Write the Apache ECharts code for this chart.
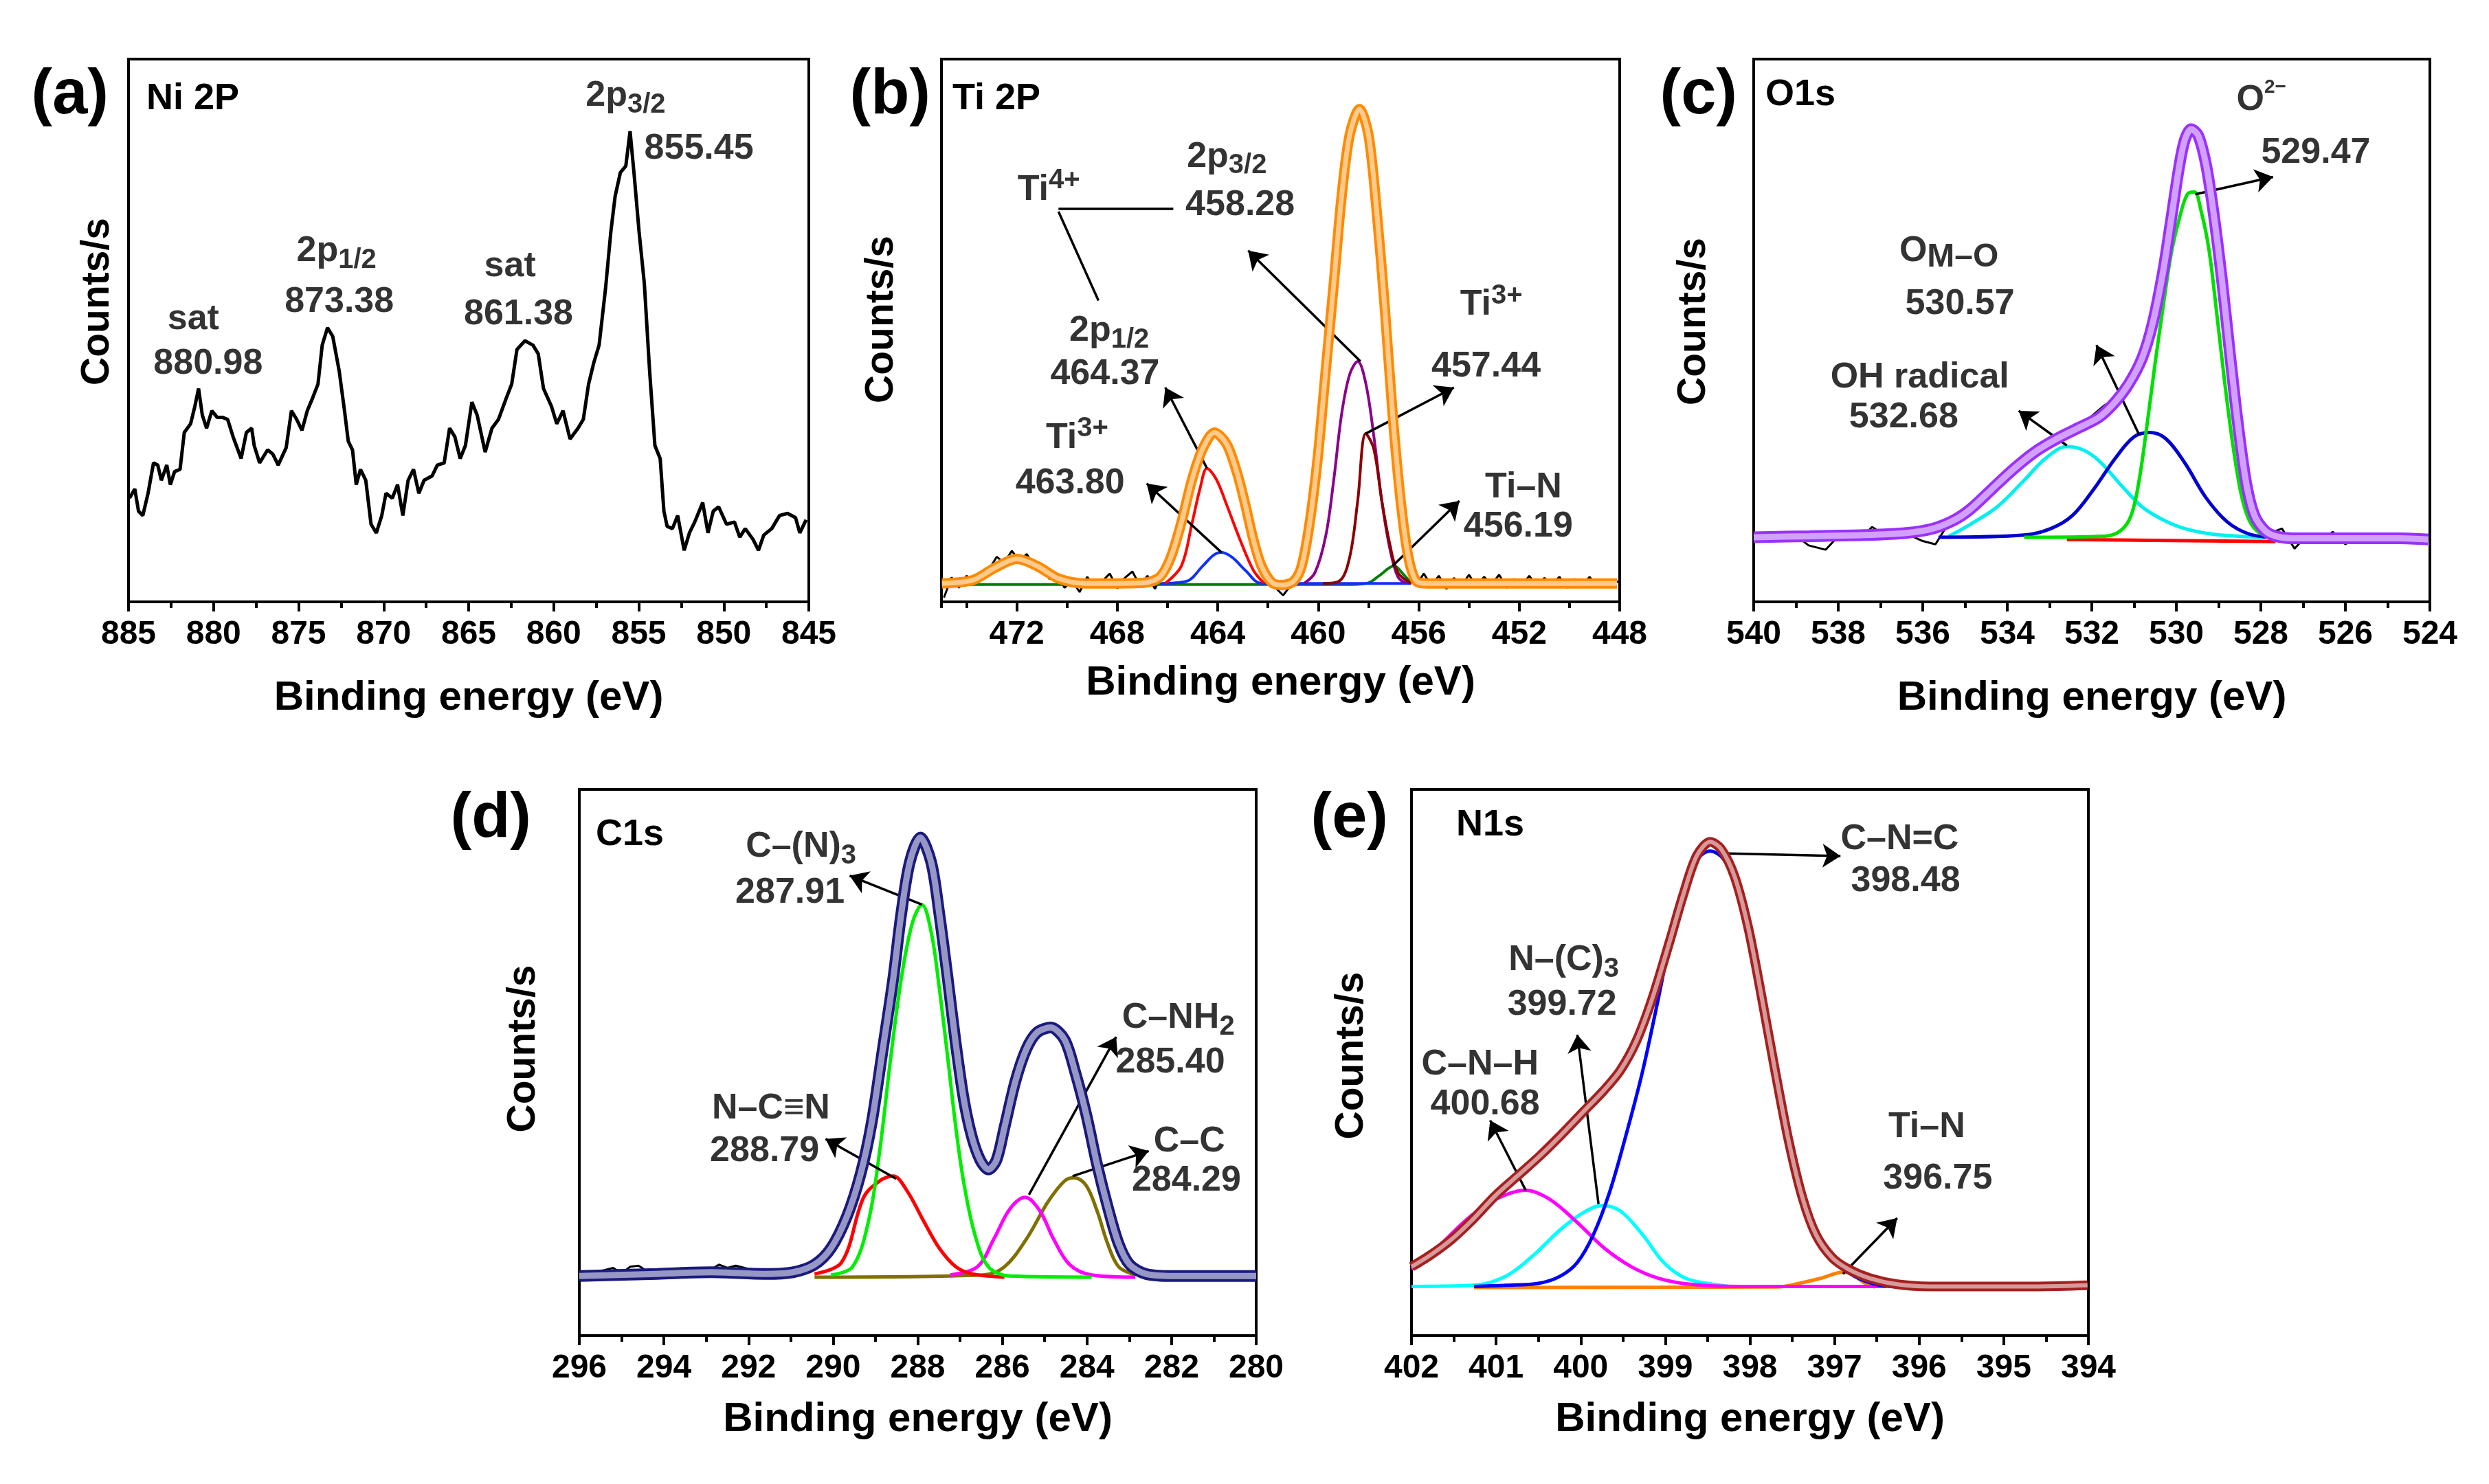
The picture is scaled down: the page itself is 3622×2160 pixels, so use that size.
<!DOCTYPE html>
<html>
<head>
<meta charset="utf-8">
<title>XPS spectra</title>
<script src="https://cdn.jsdelivr.net/npm/echarts@6/dist/echarts.min.js"></script>
<style>
  html, body { margin: 0; padding: 0; background: #fff; }
  #chart { width: 3622px; height: 2160px; }
</style>
</head>
<body>
<div id="chart"></div>
<script>
// (a) Ni 2P raw spectrum [binding energy, counts]
const niRaw = [
  [884.94,19.1],[884.63,20.8],[884.41,16.7],[884.16,15.9],[883.85,20.0],[883.53,25.6],[883.28,25.2],[883.07,22.4],
  [882.75,25.2],[882.54,21.6],[882.29,24.0],[881.97,24.4],[881.72,31.2],[881.35,32.8],[881.10,36.0],[880.88,39.3],
  [880.66,34.4],[880.41,32.0],[880.10,35.2],[879.79,34.0],[879.48,34.0],[879.17,33.6],[878.85,30.4],[878.38,26.4],
  [878.07,31.2],[877.76,32.0],[877.61,28.8],[877.29,25.6],[876.82,28.0],[876.51,27.2],[876.20,25.2],[875.73,28.4],
  [875.42,35.2],[875.11,33.6],[874.80,31.6],[874.49,35.2],[874.17,37.6],[873.86,40.1],[873.61,47.3],[873.30,50.5],
  [872.99,48.9],[872.61,42.5],[872.30,35.2],[872.08,29.6],[871.83,28.0],[871.61,21.6],[871.36,24.4],[871.05,22.4],
  [870.74,14.3],[870.43,12.7],[870.11,15.9],[869.86,20.0],[869.49,19.1],[869.18,21.6],[868.87,15.9],[868.56,22.4],
  [868.24,24.4],[867.93,20.0],[867.62,22.4],[867.15,23.2],[866.84,25.2],[866.44,25.6],[866.12,32.0],[865.81,30.4],
  [865.50,26.4],[865.19,28.8],[864.81,36.8],[864.50,34.4],[864.03,27.6],[863.63,32.0],[863.25,33.6],[862.78,37.6],
  [862.47,40.1],[862.16,46.5],[861.69,48.1],[861.22,47.3],[860.91,45.7],[860.60,39.3],[860.13,36.0],[859.82,32.8],
  [859.45,35.2],[859.04,30.0],[858.57,32.0],[858.26,33.6],[857.95,40.1],[857.64,44.1],[857.33,47.3],[856.95,57.8],
  [856.64,68.2],[856.39,74.7],[856.08,79.1],[855.76,80.3],[855.51,86.7],[855.27,78.7],[854.98,68.2],[854.67,58.6],
  [854.36,42.5],[854.05,28.8],[853.74,26.4],[853.52,16.7],[853.33,13.9],[853.02,13.5],[852.71,15.9],[852.33,9.5],
  [852.02,12.7],[851.71,14.7],[851.24,18.3],[850.93,12.7],[850.62,16.7],[850.30,17.5],[849.84,14.3],[849.37,14.7],
  [849.06,11.9],[848.74,13.5],[848.28,11.5],[847.96,9.5],[847.65,12.3],[847.18,13.5],[846.72,15.9],[846.25,16.3],
  [845.78,15.5],[845.53,12.7],[845.16,15.1]
];

// (b) Ti 2P
const tiRaw = [
  [474.9,0.8],[474.6,4.5],[474.3,2.6],[474.0,4.8],[473.7,3.4],[473.4,5.6],[473.1,6.0],[472.8,8.3],[472.5,7.2],[472.2,9.4],
  [471.9,7.6],[471.6,8.8],[471.3,6.2],[471.0,6.4],[470.7,4.2],[470.4,5.0],[470.1,2.6],[469.8,3.9],[469.5,1.8],[469.2,4.6],
  [468.9,2.9],[468.6,3.8],[468.3,5.2],[468.0,2.5],[467.7,4.4],[467.4,5.6],[467.1,3.0],[466.8,4.8],[466.5,2.4],[466.2,5.2],
  [465.9,7.5],[465.5,14.8],[465.0,23.0],[464.5,29.0],[464.1,31.6],[463.6,28.8],[463.2,23.6],[462.8,16.5],[462.4,8.4],
  [462.0,4.6],[461.7,2.6],[461.4,1.2],[461.1,3.0],[460.8,4.8],[460.4,13.0],[460.0,27.0],[459.5,50.0],[459.0,78.0],
  [458.6,88.5],[458.3,91.0],[458.0,86.0],[457.6,68.0],[457.2,42.0],[456.8,20.0],[456.4,8.0],[456.1,3.0],[455.8,5.2],
  [455.5,3.0],[455.2,4.8],[454.9,2.4],[454.6,4.4],[454.3,3.0],[454.0,5.0],[453.7,2.8],[453.4,4.6],[453.1,3.2],[452.8,5.0],
  [452.5,2.6],[452.2,4.2],[451.9,3.0],[451.6,4.8],[451.3,2.8],[451.0,4.4],[450.7,3.2],[450.4,4.6],[450.1,2.6],[449.8,4.2],
  [449.5,3.0],[449.2,4.6],[448.9,2.8],[448.6,4.0],[448.3,3.2],[448.05,3.8]
];
const tiEnvelope = [
  [474.98,3.4],[473.75,4.0],[472.90,6.2],[472.00,7.9],[471.19,6.6],[470.34,4.3],[469.28,3.4],[468.00,3.4],[466.94,3.5],
  [466.30,4.6],[465.87,8.2],[465.45,14.6],[465.02,22.6],[464.60,28.2],[464.13,31.2],[463.64,29.0],[463.21,23.4],
  [462.90,17.8],[462.58,11.4],[462.26,6.6],[461.83,3.5],[461.41,3.1],[460.98,3.8],[460.66,6.6],[460.34,14.6],
  [460.02,26.6],[459.70,42.7],[459.38,58.7],[459.07,74.7],[458.75,86.0],[458.36,90.8],[458.00,86.0],[457.68,72.3],
  [457.36,54.7],[457.04,34.6],[456.72,18.6],[456.41,8.2],[456.09,3.8],[455.66,3.4],[454.38,3.4],[452.26,3.4],
  [450.13,3.4],[448.11,3.4]
];
const ti4p12 = [[466.09,3.4],[465.45,6.6],[465.02,14.6],[464.70,21.0],[464.43,24.6],[464.06,22.6],[463.64,17.8],[463.11,11.4],[462.58,5.8],[462.15,3.4]];
const ti3p12 = [[466.30,3.4],[465.24,3.8],[464.60,6.6],[464.17,8.6],[463.85,9.1],[463.43,8.2],[462.90,5.8],[462.26,3.4],[459.00,3.4],[456.30,3.4]];
const ti4p32 = [[460.56,3.4],[460.13,5.4],[459.70,12.2],[459.38,22.6],[459.07,34.6],[458.75,41.9],[458.43,44.3],[458.11,40.3],[457.79,30.6],[457.47,18.6],[457.15,9.8],[456.83,4.6],[456.51,3.4]];
const ti3p32 = [[459.81,3.4],[459.17,3.8],[458.75,8.2],[458.43,18.6],[458.11,31.0],[457.79,28.2],[457.47,18.6],[457.15,10.6],[456.83,5.4],[456.30,3.4]];
const tiN = [[474.98,3.2],[466.0,3.2],[458.64,3.2],[458.00,3.5],[457.58,4.8],[456.98,6.6],[456.62,5.1],[456.30,3.4]];

// (c) O1s
const oRaw = [
  [539.9,12.5],[539.5,11.2],[539.1,12.8],[538.7,10.4],[538.3,9.6],[537.9,12.9],[537.5,11.4],[537.2,13.8],[536.8,11.8],
  [536.4,12.6],[536.0,11.2],[535.7,10.6],[535.3,15.6],[534.9,17.8],[534.5,19.8],[534.1,23.4],[533.7,25.0],[533.3,28.4],
  [532.9,29.0],[532.5,31.6],[532.1,33.6],[531.7,36.2],[531.3,38.0],[530.9,44.0],[530.5,52.0],[530.1,71.0],[529.8,85.0],
  [529.6,87.0],[529.3,80.0],[529.0,64.0],[528.7,45.0],[528.4,25.0],[528.1,15.0],[527.8,12.6],[527.5,13.5],[527.2,9.8],
  [526.9,12.4],[526.6,11.2],[526.3,12.9],[526.0,10.6],[525.7,12.2],[525.4,11.0],[525.1,12.6],[524.8,10.8],[524.5,12.4],
  [524.1,11.6]
];
const oEnvelope = [
  [540.00,11.9],[538.67,12.1],[537.40,12.3],[536.39,12.7],[535.76,13.5],[535.25,15.1],[534.87,17.1],[534.36,20.8],
  [533.86,24.4],[533.35,27.6],[532.84,30.0],[532.33,32.0],[531.83,34.0],[531.45,36.8],[531.13,40.1],[530.81,44.9],
  [530.56,51.3],[530.31,61.0],[530.12,70.6],[529.93,80.3],[529.80,85.1],[529.65,87.1],[529.48,85.9],[529.29,80.3],
  [529.10,70.6],[528.91,58.6],[528.72,44.9],[528.53,32.0],[528.34,21.6],[528.15,15.9],[527.90,13.1],[527.65,12.1],
  [527.27,11.7],[526.00,11.7],[524.73,11.7],[524.04,11.5]
];
const oLattice = [[533.60,11.9],[531.70,12.1],[531.32,13.1],[531.07,15.9],[530.88,22.4],[530.69,32.8],[530.50,44.1],[530.31,54.5],[530.12,64.2],[529.93,70.6],[529.74,75.1],[529.57,75.5],[529.42,72.2],[529.23,65.0],[529.04,52.9],[528.85,40.1],[528.66,28.8],[528.47,20.0],[528.28,15.1],[528.03,12.7],[527.65,11.9]];
const oMetal = [[535.63,11.9],[533.60,12.3],[532.97,13.5],[532.46,15.9],[531.95,20.8],[531.45,26.4],[531.00,30.4],[530.62,31.2],[530.24,30.0],[529.80,25.6],[529.29,19.1],[528.79,14.7],[528.28,12.5],[527.77,11.9]];
const oHydroxyl = [[535.38,12.1],[534.87,14.3],[534.24,17.5],[533.60,22.4],[533.10,26.4],[532.59,28.6],[532.21,28.0],[531.83,26.0],[531.32,21.6],[530.81,17.5],[530.31,15.1],[529.80,13.5],[529.17,12.5],[528.53,12.1],[527.90,11.9]];
const oBackground = [[532.59,11.5],[527.65,11.1]];

// (d) C1s
const cRaw = [[296.0,11.0],[295.6,11.6],[295.2,12.4],[295.0,11.4],[294.8,12.6],[294.6,12.8],[294.4,11.8],[294.0,11.0],[293.6,11.4],[293.2,10.8],[292.9,12.0],[292.7,13.0],[292.5,12.4],[292.3,12.8],[292.0,12.2],[291.7,11.6],[291.3,11.0],[290.9,11.6],[290.5,12.8]];
const cEnvelope = [
  [296.00,10.9],[294.16,11.3],[292.88,11.6],[291.60,11.3],[290.95,11.6],[290.44,13.0],[290.05,16.0],[289.67,21.9],
  [289.35,29.6],[289.09,38.9],[288.84,51.7],[288.58,65.3],[288.39,77.2],[288.19,86.6],[287.94,91.2],[287.68,86.6],
  [287.49,77.2],[287.29,65.3],[287.10,53.4],[286.91,43.2],[286.72,36.4],[286.52,32.1],[286.33,30.4],[286.14,32.1],
  [285.95,38.1],[285.69,46.6],[285.43,52.5],[285.18,55.5],[284.86,56.4],[284.53,54.2],[284.28,48.3],[284.02,40.6],
  [283.76,31.3],[283.51,23.6],[283.25,16.8],[282.99,13.0],[282.61,11.3],[281.96,10.9],[280.00,10.9]
];
const cTriazine = [[290.05,11.1],[289.54,12.6],[289.16,21.1],[288.90,33.8],[288.64,50.8],[288.39,65.3],[288.13,75.5],[287.90,78.9],[287.68,73.8],[287.49,63.6],[287.29,50.8],[287.10,38.1],[286.91,27.9],[286.65,18.5],[286.33,12.6],[285.82,10.9],[283.89,10.7]];
const cCyanamide = [[290.44,11.3],[289.80,13.4],[289.28,25.3],[288.90,28.3],[288.58,29.2],[288.26,26.6],[287.87,21.1],[287.49,16.0],[287.10,12.6],[286.72,11.3],[285.95,10.7]];
const cAmine = [[287.23,11.1],[286.59,12.6],[286.20,17.7],[285.82,23.2],[285.46,25.3],[285.11,22.8],[284.79,17.7],[284.41,13.0],[283.89,11.1],[282.86,10.7]];
const cCarbon = [[290.44,10.7],[286.46,11.1],[285.95,12.6],[285.43,17.7],[284.92,24.5],[284.53,28.3],[284.30,28.9],[284.02,27.5],[283.76,22.8],[283.51,16.8],[283.25,12.6],[282.86,11.1]];

// (e) N1s
const nEnvelope = [
  [402.00,12.6],[401.78,14.7],[401.52,17.7],[401.26,21.5],[401.01,25.6],[400.75,29.2],[400.49,32.8],[400.24,36.6],
  [399.98,40.8],[399.72,45.0],[399.53,48.6],[399.34,54.0],[399.15,61.9],[398.95,72.1],[398.79,80.6],[398.63,87.8],
  [398.47,90.4],[398.34,89.1],[398.18,84.0],[398.02,74.7],[397.86,61.9],[397.70,48.3],[397.54,35.5],[397.38,25.3],
  [397.22,18.5],[397.03,14.3],[396.84,12.2],[396.58,10.5],[396.26,9.4],[395.87,9.0],[395.23,9.0],[394.59,9.0],[394.01,9.2]
];
const nSp2 = [[401.26,9.0],[400.88,9.2],[400.49,9.6],[400.24,10.9],[400.04,13.4],[399.85,18.5],[399.66,26.2],[399.47,36.4],[399.27,48.3],[399.08,61.9],[398.92,73.8],[398.79,80.6],[398.63,87.0],[398.47,88.7],[398.31,87.2],[398.15,81.9],[397.99,72.5],[397.83,59.8],[397.67,46.2],[397.51,34.3],[397.35,24.9],[397.19,18.1],[397.00,13.6],[396.77,10.9],[396.52,9.4],[396.32,9.0]];
const nAmino = [[402.00,12.2],[401.65,16.8],[401.33,21.5],[401.01,24.9],[400.65,26.6],[400.36,24.9],[400.04,20.7],[399.72,16.0],[399.40,12.6],[399.08,10.5],[398.70,9.4],[398.12,9.0],[396.39,9.0]];
const nTertiary = [[402.00,9.0],[401.26,9.2],[400.88,10.9],[400.56,14.7],[400.24,19.4],[399.98,22.4],[399.75,23.8],[399.53,22.8],[399.27,18.5],[399.02,13.4],[398.76,10.5],[398.44,9.4],[398.25,9.0]];
const nTiN = [[401.26,8.8],[397.67,8.9],[397.41,9.6],[397.16,10.5],[396.90,11.6],[396.80,11.3],[396.64,9.6],[396.52,8.9]];

// peak annotations: [energy, counts, text]
const notesA = [
  [881.19,52.1,'{m|sat}'],[880.32,43.9,'{m|880.98}'],
  [872.77,64.6,'{m|2p}{sub|1/2}'],[872.61,55.2,'{m|873.38}'],
  [862.57,61.8,'{m|sat}'],[862.07,52.9,'{m|861.38}'],
  [855.77,93.2,'{m|2p}{sub|3/2}'],[851.46,83.5,'{m|855.45}']
];
const notesB = [
  [470.73,75.9,'{m|Ti}{sup|4+}'],
  [463.64,82.0,'{m|2p}{sub|3/2}'],[463.11,73.1,'{m|458.28}'],
  [468.32,49.9,'{m|2p}{sub|1/2}'],[468.49,41.9,'{m|464.37}'],
  [469.60,30.2,'{m|Ti}{sup|3+}'],[469.88,21.8,'{m|463.80}'],
  [453.11,54.7,'{m|Ti}{sup|3+}'],[453.32,43.3,'{m|457.44}'],
  [451.83,21.0,'{m|Ti–N}'],[452.04,13.8,'{m|456.19}']
];
const notesC = [
  [527.99,92.4,'{m|O}{sup2|2−}'],[526.70,82.7,'{m|529.47}'],
  [535.38,64.6,'{m|O}{subL|M–O}'],[535.12,54.9,'{m|530.57}'],
  [536.07,41.3,'{m|OH radical}'],[536.45,34.0,'{m|532.68}']
];
const notesD = [
  [290.76,89.5,'{m|C–(N)}{sub|3}'],[291.02,81.0,'{m|287.91}'],
  [291.47,41.5,'{m|N–C≡N}'],[291.62,33.8,'{m|288.79}'],
  [281.84,58.1,'{m|C–NH}{sub|2}'],[282.03,50.0,'{m|285.40}'],
  [281.58,35.5,'{m|C–C}'],[281.65,28.3,'{m|284.29}']
];
const notesE = [
  [396.23,90.8,'{m|C–N=C}'],[396.16,83.2,'{m|398.48}'],
  [400.20,68.7,'{m|N–(C)}{sub|3}'],[400.22,60.6,'{m|399.72}'],
  [401.19,49.6,'{m|C–N–H}'],[401.13,42.3,'{m|400.68}'],
  [395.91,38.1,'{m|Ti–N}'],[395.78,28.7,'{m|396.75}']
];

// leader lines: [from energy, from counts, to energy, to counts, arrow head]
const arrowsA = [];
const arrowsB = [
  [470.34,72.5,465.77,72.5,0],[470.34,71.9,468.75,55.5,0],
  [458.32,44.3,462.79,64.7,1],[464.43,24.6,466.09,39.5,1],[463.85,9.1,466.83,21.8,1],
  [458.11,31.0,454.60,39.5,1],[457.04,6.6,454.38,18.6,1]
];
const arrowsC = [[529.55,75.1,527.71,78.3,1],[530.88,30.8,531.89,47.3,1],[532.59,28.8,533.73,35.2,1]];
const arrowsD = [[287.90,78.9,289.61,84.2,1],[288.51,28.7,290.18,36.0,1],[285.37,25.8,283.31,54.7,1],[284.34,29.2,282.54,33.8,1]];
const arrowsE = [[398.34,88.3,396.93,87.8,1],[399.79,24.1,400.04,55.1,1],[400.65,26.6,401.07,39.4,1],[396.90,11.3,396.26,21.5,1]];

const FONT = '"Liberation Sans", Arial, Helvetica, sans-serif';

// panel frames
const panels = [
  { letter: '(a)', title: 'Ni 2P', left: 187,  top: 86,   width: 990, height: 790, min: 845, max: 885, step: 5,
    letterGap: 29, letterDy: 54, titleDx: 26, titleDy: 58, xGap: 110, yGap: 16, yShift: 42, hideMax: false },
  { letter: '(b)', title: 'Ti 2P', left: 1370, top: 86,   width: 987, height: 790, min: 448, max: 475, step: 4,
    letterGap: 16, letterDy: 54, titleDx: 16, titleDy: 58, xGap: 88,  yGap: 58, yShift: 16, hideMax: true },
  { letter: '(c)', title: 'O1s',   left: 2552, top: 86,   width: 984, height: 790, min: 524, max: 540, step: 2,
    letterGap: 24, letterDy: 54, titleDx: 17, titleDy: 52, xGap: 110, yGap: 58, yShift: 13, hideMax: false },
  { letter: '(d)', title: 'C1s',   left: 843,  top: 1149, width: 985, height: 795, min: 280, max: 296, step: 2,
    letterGap: 70, letterDy: 44, titleDx: 24, titleDy: 66, xGap: 92,  yGap: 52, yShift: 20, hideMax: false },
  { letter: '(e)', title: 'N1s',   left: 2054, top: 1149, width: 985, height: 795, min: 394, max: 402, step: 1,
    letterGap: 34, letterDy: 44, titleDx: 65, titleDy: 52, xGap: 92,  yGap: 58, yShift: 10, hideMax: false }
];

const RICH = {
  m:    { fontFamily: FONT, fontWeight: 'bold', fontSize: 52, lineHeight: 66, color: '#000' },
  sub:  { fontFamily: FONT, fontWeight: 'bold', fontSize: 40, verticalAlign: 'bottom', color: '#000' },
  subL: { fontFamily: FONT, fontWeight: 'bold', fontSize: 48, verticalAlign: 'bottom', color: '#000' },
  sup:  { fontFamily: FONT, fontWeight: 'bold', fontSize: 40, verticalAlign: 'top', color: '#000' },
  sup2: { fontFamily: FONT, fontWeight: 'bold', fontSize: 28, verticalAlign: 'top', color: '#000' }
};

function line(gi, data, color, width, smooth, z) {
  return {
    type: 'line', xAxisIndex: gi * 2, yAxisIndex: gi, data: data,
    symbol: 'none', showSymbol: false, smooth: smooth, silent: true, z: z || 2,
    lineStyle: { color: color, width: width }
  };
}

// open-circle envelope drawn as a hollow band
function envelope(gi, data, color, width) {
  const inner = line(gi, data, '#fff', width - 8, 0.3, 6);
  inner.lineStyle.opacity = 0.55;
  return [line(gi, data, color, width, 0.3, 5), inner];
}

function notes(gi, labels, arrows) {
  return {
    type: 'scatter', xAxisIndex: gi * 2, yAxisIndex: gi, symbolSize: 0, silent: true, z: 10,
    data: labels.map(l => ({ value: [l[0], l[1]], txt: l[2] })),
    label: { show: true, position: 'inside', color: '#000', formatter: p => p.data.txt, rich: RICH },
    markLine: {
      silent: true, symbolSize: 26, label: { show: false },
      lineStyle: { color: '#000', width: 3.5, type: 'solid' },
      data: arrows.map(a => [
        { coord: [a[0], a[1]], symbol: 'none' },
        { coord: [a[2], a[3]], symbol: a[4] ? 'arrow' : 'none' }
      ])
    }
  };
}

const xAxes = [];
panels.forEach((p, i) => {
  xAxes.push({
    type: 'value', gridIndex: i, position: 'bottom', inverse: true,
    min: p.min, max: p.max, interval: p.step,
    axisLine: { show: true, lineStyle: { color: '#000', width: 4 } },
    axisTick: { show: true, inside: false, length: 14, lineStyle: { color: '#000', width: 4 } },
    axisLabel: { show: true, margin: 24, color: '#000', fontSize: 48, fontWeight: 'bold', fontFamily: FONT,
                 showMaxLabel: !p.hideMax, showMinLabel: true },
    splitLine: { show: false },
    name: 'Binding energy (eV)', nameLocation: 'middle', nameGap: p.xGap,
    nameTextStyle: { color: '#000', fontSize: 60, fontWeight: 'bold', fontFamily: FONT }
  });
  xAxes.push({
    type: 'value', gridIndex: i, position: 'bottom', inverse: true,
    min: p.min, max: p.max, interval: p.step / 2,
    axisLine: { show: false },
    axisTick: { show: true, inside: false, length: 9, lineStyle: { color: '#000', width: 4 } },
    axisLabel: { show: false }, splitLine: { show: false }
  });
});

const yAxes = panels.map((p, i) => ({
  type: 'value', gridIndex: i, min: 0, max: 100,
  axisLine: { show: true, lineStyle: { color: '#000', width: 4 } },
  axisTick: { show: false }, axisLabel: { show: false }, splitLine: { show: false },
  name: 'Counts/s', nameLocation: 'middle', nameGap: p.yGap, nameRotate: 90,
  nameTextStyle: { color: '#000', fontSize: 57, fontWeight: 'bold', fontFamily: FONT,
                   padding: [0, 0, 0, p.yShift * 2] }
}));

const series = [
  line(0, niRaw, '#000', 5, false, 3),
  notes(0, notesA, arrowsA),

  line(1, tiRaw, '#000', 3, false, 1),
  line(1, tiN, '#008000', 4, 0.35),
  line(1, ti3p12, '#1030ff', 4, 0.35),
  line(1, ti4p12, '#ff0000', 4, 0.35),
  line(1, ti4p32, '#8b008b', 4, 0.35),
  line(1, ti3p32, '#8b0000', 4, 0.35),
  ...envelope(1, tiEnvelope, '#ff8a00', 15),
  notes(1, notesB, arrowsB),

  line(2, oRaw, '#000', 3, false, 1),
  line(2, oBackground, '#ff0000', 5, false),
  line(2, oHydroxyl, '#00f0f0', 5, 0.35),
  line(2, oMetal, '#0000d0', 5, 0.35),
  line(2, oLattice, '#00e000', 5, 0.35),
  ...envelope(2, oEnvelope, '#9b30ff', 17),
  notes(2, notesC, arrowsC),

  line(3, cRaw, '#000', 3, false, 1),
  line(3, cCarbon, '#807000', 5, 0.35),
  line(3, cAmine, '#ff00ff', 5, 0.35),
  line(3, cCyanamide, '#ff0000', 5, 0.35),
  line(3, cTriazine, '#00ee00', 5, 0.35),
  ...envelope(3, cEnvelope, '#1a1a7e', 17),
  notes(3, notesD, arrowsD),

  line(4, nTiN, '#ff8000', 5, 0.35),
  line(4, nTertiary, '#00ffff', 5, 0.35),
  line(4, nAmino, '#ff00ff', 5, 0.35),
  line(4, nSp2, '#0000ff', 5, 0.35),
  ...envelope(4, nEnvelope, '#a52020', 14),
  notes(4, notesE, arrowsE)
];

const graphics = [];
panels.forEach(p => {
  graphics.push({
    type: 'text', x: p.left - p.letterGap, y: p.top + p.letterDy, silent: true,
    style: { text: p.letter, fill: '#000', font: 'bold 92px ' + FONT, align: 'right', verticalAlign: 'middle' }
  });
  graphics.push({
    type: 'text', x: p.left + p.titleDx, y: p.top + p.titleDy, silent: true,
    style: { text: p.title, fill: '#000', font: 'bold 54px ' + FONT, align: 'left', verticalAlign: 'middle' }
  });
});

const chart = echarts.init(document.getElementById('chart'));
chart.setOption({
  animation: false,
  backgroundColor: '#fff',
  grid: panels.map(p => ({
    left: p.left, top: p.top, width: p.width, height: p.height,
    show: true, borderColor: '#000', borderWidth: 4, backgroundColor: 'transparent'
  })),
  xAxis: xAxes,
  yAxis: yAxes,
  series: series,
  graphic: graphics
});
</script>
</body>
</html>
